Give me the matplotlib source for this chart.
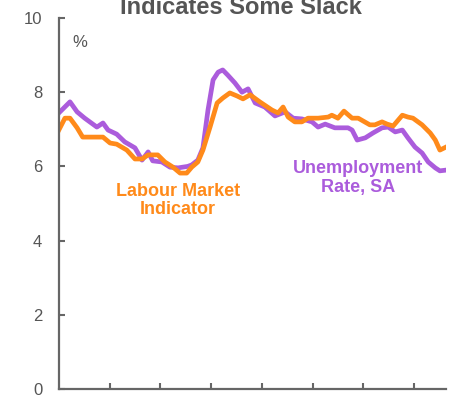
import matplotlib.pyplot as plt

# decimal years
ur_x = [2017.00, 2017.22, 2017.36, 2017.51, 2017.75, 2017.87, 2017.97, 2018.14, 2018.30,
        2018.50, 2018.64, 2018.76, 2018.85, 2019.03, 2019.19, 2019.35, 2019.54, 2019.62,
        2019.74, 2019.84, 2019.94, 2020.04, 2020.14, 2020.23, 2020.33, 2020.47, 2020.61,
        2020.73, 2020.87, 2021.06, 2021.26, 2021.46, 2021.62, 2021.79, 2021.99, 2022.11,
        2022.25, 2022.44, 2022.70, 2022.78, 2022.88, 2023.04, 2023.19, 2023.37, 2023.49,
        2023.63, 2023.77, 2023.88, 2024.02, 2024.16, 2024.28, 2024.42, 2024.51, 2024.63]
ur_y = [7.44, 7.74, 7.47, 7.30, 7.06, 7.17, 6.98, 6.87, 6.66,
        6.50, 6.17, 6.39, 6.15, 6.12, 5.98, 5.96, 6.00, 6.04,
        6.17, 6.50, 7.52, 8.33, 8.54, 8.60, 8.46, 8.25, 8.00,
        8.09, 7.71, 7.60, 7.36, 7.47, 7.30, 7.28, 7.20, 7.06,
        7.14, 7.04, 7.04, 6.98, 6.71, 6.77, 6.90, 7.04, 7.06,
        6.93, 6.98, 6.77, 6.52, 6.36, 6.12, 5.96, 5.88, 5.90]

lmi_x = [2017.00, 2017.12, 2017.22, 2017.36, 2017.47, 2017.65, 2017.87, 2018.01, 2018.14,
         2018.34, 2018.50, 2018.64, 2018.76, 2018.95, 2019.09, 2019.25, 2019.39, 2019.52,
         2019.62, 2019.74, 2019.84, 2019.98, 2020.12, 2020.23, 2020.37, 2020.51, 2020.63,
         2020.77, 2020.96, 2021.20, 2021.32, 2021.42, 2021.52, 2021.65, 2021.79, 2021.91,
         2022.11, 2022.31, 2022.38, 2022.50, 2022.62, 2022.78, 2022.90, 2023.13, 2023.23,
         2023.37, 2023.47, 2023.59, 2023.77, 2023.88, 2023.98, 2024.16, 2024.32, 2024.42,
         2024.51, 2024.63]
lmi_y = [6.98, 7.30, 7.30, 7.04, 6.79, 6.79, 6.79, 6.63, 6.60,
         6.44, 6.20, 6.20, 6.31, 6.31, 6.12, 5.98, 5.82, 5.82,
         5.98, 6.12, 6.44, 7.06, 7.71, 7.84, 7.98, 7.90, 7.82,
         7.93, 7.74, 7.52, 7.44, 7.60, 7.33, 7.20, 7.20, 7.30,
         7.30, 7.33, 7.38, 7.30, 7.49, 7.30, 7.30, 7.12, 7.12,
         7.20, 7.14, 7.09, 7.38, 7.33, 7.30, 7.12, 6.90, 6.71,
         6.44, 6.52]

yticks = [0, 2, 4, 6, 8, 10]
xticks = [2018, 2019, 2020, 2021, 2022, 2023, 2024]

purple = '#ab5cdc'
orange = '#ff8a1a'
grey = '#666666'

plt.rcParams['font.family'] = ['Liberation Sans', 'DejaVu Sans']

fig = plt.figure(figsize=(4.56, 4.0), dpi=100)
ax = fig.add_axes([0.129, 0.0275, 0.849, 0.9275])

ax.plot(ur_x, ur_y, color=purple, lw=3.4, solid_joinstyle='round')
ax.plot(lmi_x, lmi_y, color=orange, lw=3.4, solid_joinstyle='round')

ax.set_xlim(2017, 2024.63)
ax.set_ylim(0, 10)
ax.set_yticks(yticks)
ax.set_xticks(xticks)
ax.set_xticklabels([])
ax.tick_params(direction='in', length=4, width=1.5, color=grey,
               labelcolor='#555555', labelsize=12, pad=12)
for s in ['top', 'right']:
    ax.spines[s].set_visible(False)
for s in ['left', 'bottom']:
    ax.spines[s].set_color(grey)
    ax.spines[s].set_linewidth(1.6)

ax.text(0.035, 0.955, '%', transform=ax.transAxes, fontsize=12,
        color='#555555', va='top', ha='left')

ax.text(2019.35, 5.09, 'Labour Market\nIndicator', color=orange, fontsize=13,
        fontweight='bold', ha='center', va='center', linespacing=1.1)
ax.text(2022.9, 5.69, 'Unemployment\nRate, SA', color=purple, fontsize=13,
        fontweight='bold', ha='center', va='center', linespacing=1.1)

fig.text(0.529, 0.965, 'Indicates Some Slack', color='#555555', fontsize=17,
         fontweight='bold', ha='center', va='baseline')

fig.savefig('out.png', dpi=100)
